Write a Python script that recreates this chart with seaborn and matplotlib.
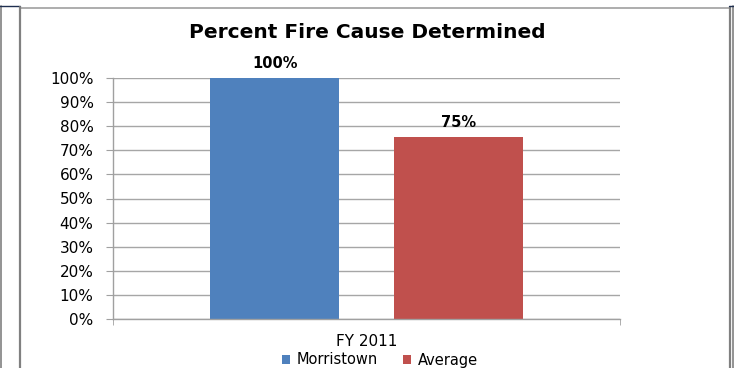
import pandas as pd
import matplotlib.pyplot as plt
import seaborn as sns
from matplotlib.lines import Line2D

# chart values
periods = ["FY 2011", "FY 2011"]
series = ["Morristown", "Average"]
values = [1.00, 0.755]
value_labels = ["100%", "75%"]
y_ticks = [0, 0.1, 0.2, 0.3, 0.4, 0.5, 0.6, 0.7, 0.8, 0.9, 1.0]
y_tick_labels = [f"{int(round(t * 100))}%" for t in y_ticks]
colors = ["#4F81BD", "#C0504D"]

df = pd.DataFrame({"period": periods, "series": series, "value": values})

sns.set_style("white")
plt.rcParams['font.family'] = ['DejaVu Sans']
plt.rcParams['text.color'] = 'black'
plt.rcParams['xtick.labelcolor'] = 'black'
plt.rcParams['ytick.labelcolor'] = 'black'

W, H = 734, 368
fig = plt.figure(figsize=(W / 100, H / 100), dpi=100)
ax = fig.add_axes([113 / W, 1 - 319 / H, (620 - 113) / W, (319 - 78) / H])

sns.barplot(data=df, x="period", y="value", hue="series", palette=colors,
            width=0.724, gap=0.30, saturation=1, ax=ax, legend=True,
            edgecolor="none", linewidth=0)

ax.set_ylim(0, 1)
ax.set_xlim(-0.5, 0.5)
ax.set_yticks(y_ticks)
ax.set_yticklabels(y_tick_labels)
ax.yaxis.grid(True, color="#A6A6A6", linewidth=1)
ax.set_axisbelow(True)
ax.set_xlabel("")
ax.set_ylabel("")

for s in ["top", "right"]:
    ax.spines[s].set_visible(False)
for s in ["left", "bottom"]:
    ax.spines[s].set_color("#A0A0A0")
    ax.spines[s].set_linewidth(1)

ax.tick_params(axis="y", length=5, color="#A0A0A0", labelsize=11, pad=9, left=True)
ax.set_xticks([-0.5, 0.5], minor=True)
ax.tick_params(axis="x", which="minor", length=4, color="#A0A0A0", bottom=True)
ax.tick_params(axis="x", which="major", length=0, labelsize=11, pad=11)

for cont, lab in zip(ax.containers, value_labels):
    ax.bar_label(cont, labels=[lab], padding=5, fontsize=10.5, fontweight="bold")

handles, labels = ax.get_legend_handles_labels()
ax.legend(handles, labels, loc="center", bbox_to_anchor=(380 / W, 1 - 360 / H),
          bbox_transform=fig.transFigure, ncol=2, frameon=False, fontsize=10.5,
          handlelength=0.55, handleheight=0.55, handletextpad=0.5, columnspacing=1.7,
          borderpad=0)

fig.text(0.5, 1 - 32 / H, "Percent Fire Cause Determined", ha="center", va="center",
         fontsize=14.5, fontweight="bold")

# frame lines around the chart
def px_line(x0, y0, x1, y1, color, lw):
    fig.add_artist(Line2D([x0 / W, x1 / W], [1 - y0 / H, 1 - y1 / H],
                          transform=fig.transFigure, color=color, linewidth=lw))

px_line(0.5, 6, 0.5, H, "#808080", 1.2)
px_line(0, 6, 20, 6, "#1F2F50", 1.0)
px_line(20, 7.5, 729, 7.5, "#A0A0A0", 1.2)
px_line(19.5, 7, 19.5, H, "#808080", 1.6)
px_line(729.5, 7, 729.5, H, "#808080", 1.6)
px_line(732.5, 6, 732.5, H, "#808080", 1.2)
px_line(729, 6, W, 6, "#1F2F50", 1.0)

fig.savefig("out.png", dpi=100)
